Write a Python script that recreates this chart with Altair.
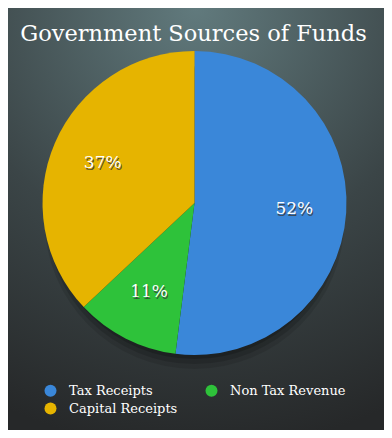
import altair as alt
import pandas as pd

categories = ["Tax Receipts", "Non Tax Revenue", "Capital Receipts"]
values = [52, 11, 37]
colors = ["#3a87d9", "#2ec23a", "#e6b400"]
title_text = "Government Sources of Funds"

W, H = 376, 422
CX, CY, R = 186.5, 195, 152
FONT = "DejaVu Serif"

df = pd.DataFrame({"cat": categories, "value": values, "idx": list(range(len(categories)))})
df["label"] = [f"{v}%" for v in values]

bg = alt.Chart(pd.DataFrame({"a": [0]})).mark_rect(
    fill=alt.RadialGradient(
        gradient="radial",
        stops=[alt.GradientStop(offset=0, color="#617a7d"),
               alt.GradientStop(offset=0.55, color="#3b4547"),
               alt.GradientStop(offset=1, color="#262829")],
        x1=0.5, y1=0.0, r1=0.0, x2=0.5, y2=0.0, r2=1.05),
).encode(x=alt.value(0), x2=alt.value(W), y=alt.value(0), y2=alt.value(H))

shadows = []
for rr, dy, op in [(150, 16, 0.10), (148, 13, 0.14), (146, 10, 0.18), (144, 7, 0.22)]:
    shadows.append(
        alt.Chart(pd.DataFrame({"a": [0]})).mark_arc(
            theta=0, theta2=6.2832, radius=rr, fill="#000000", opacity=op
        ).encode(x=alt.value(CX), y=alt.value(CY + dy))
    )

base = alt.Chart(df).encode(
    theta=alt.Theta("value:Q", stack=True),
    order=alt.Order("idx:Q"),
)

pie = base.mark_arc(radius=R, stroke=None).encode(
    x=alt.value(CX), y=alt.value(CY),
    color=alt.Color("cat:N", scale=alt.Scale(domain=categories, range=colors),
                    legend=alt.Legend(orient="none", legendX=36, legendY=376, columns=2,
                                      direction="horizontal",
                                      columnPadding=27, rowPadding=4, padding=0,
                                      symbolType="circle", symbolSize=144, symbolStrokeWidth=0,
                                      labelColor="#ffffff", labelFont=FONT, labelFontSize=13,
                                      labelOffset=12, title=None)),
)

lbl_shadow = base.mark_text(radius=100, font=FONT, fontSize=17, color="#3a3a3a",
                            dx=1, dy=1.5, opacity=0.8).encode(x=alt.value(CX), y=alt.value(CY), text="label:N")
lbl = base.mark_text(radius=100, font=FONT, fontSize=17, color="#ffffff").encode(
    x=alt.value(CX), y=alt.value(CY), text="label:N")

title = alt.Chart(pd.DataFrame({"t": [title_text]})).mark_text(
    font=FONT, fontSize=22.5, color="#ffffff", baseline="middle", align="center"
).encode(x=alt.value(185.5), y=alt.value(26), text="t:N")

chart = alt.layer(bg, *shadows, pie, lbl_shadow, lbl, title).properties(
    width=W, height=H, padding=0, background="#2b2f30"
).configure_view(stroke=None)

chart.save("out.html", embed_options={"renderer": "svg", "actions": False})
